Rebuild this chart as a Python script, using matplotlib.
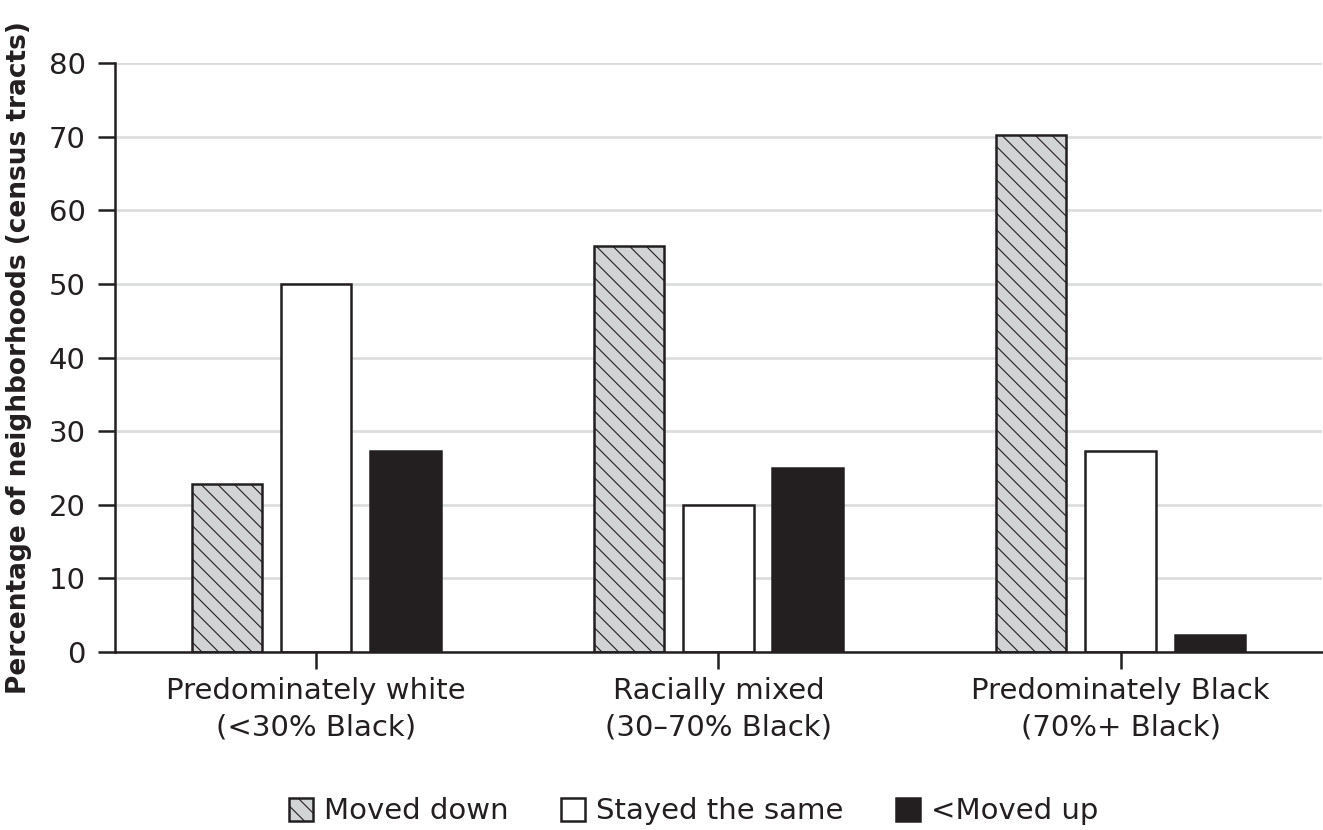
import numpy as np
import matplotlib
matplotlib.use('Agg')
import matplotlib.pyplot as plt

plt.rcParams['font.family'] = ['DejaVu Sans']
plt.rcParams['hatch.linewidth'] = 0.8
plt.rcParams['hatch.color'] = '#6a6a6a'

CATEGORIES = ['Predominately white\n(<30% Black)',
              'Racially mixed\n(30\u201370% Black)',
              'Predominately Black\n(70%+ Black)']
SERIES = ['Moved down', 'Stayed the same', '<Moved up']
MOVED_DOWN = [22.8, 55.1, 70.2]
STAYED_SAME = [50.0, 20.0, 27.3]
MOVED_UP = [27.3, 25.0, 2.3]
Y_TICKS = [0, 10, 20, 30, 40, 50, 60, 70, 80]

DARK = '#231f20'
FACES = ['#d1d3d4', 'white', DARK]
HATCHES = ['\\\\', None, None]
FS = 21

fig = plt.figure(figsize=(13.23, 8.30), dpi=100)
ax = fig.add_axes([0.087, 0.2145, 0.912, 0.7095])

x = np.arange(len(CATEGORIES))
width = 0.175
offset = 0.222
bars = []
for i, (vals, face, hatch) in enumerate(zip([MOVED_DOWN, STAYED_SAME, MOVED_UP], FACES, HATCHES)):
    b = ax.bar(x + (i - 1) * offset, vals, width, color=face, edgecolor=DARK,
               linewidth=1.8, hatch=hatch, label=SERIES[i], zorder=3)
    bars.append(b)

ax.set_xlim(-0.5, 2.5)
ax.set_ylim(0, 80)
ax.set_yticks(Y_TICKS)
ax.set_xticks(x)
ax.set_xticklabels(CATEGORIES, fontsize=FS, linespacing=1.4, color=DARK)
ax.tick_params(axis='y', labelsize=FS, labelcolor=DARK, length=12, width=1.8, color=DARK, pad=9)
ax.tick_params(axis='x', length=12, width=1.8, color=DARK, pad=6)
ax.yaxis.grid(True, color='#dcdddd', linewidth=2, zorder=0)
ax.set_axisbelow(True)

for side in ['top', 'right']:
    ax.spines[side].set_visible(False)
for side in ['left', 'bottom']:
    ax.spines[side].set_color(DARK)
    ax.spines[side].set_linewidth(1.8)
    ax.spines[side].set_zorder(4)

ax.set_ylabel('Percentage of neighborhoods (census tracts)', fontsize=19,
              fontweight='bold', color=DARK, labelpad=12)

fig.legend(handles=bars, labels=SERIES, loc='lower center', ncol=3,
           bbox_to_anchor=(0.524, -0.026), frameon=False, fontsize=FS,
           handlelength=0.85, handleheight=0.85, handletextpad=0.35,
           columnspacing=1.8, labelcolor=DARK)

fig.savefig('out.png', dpi=100)
